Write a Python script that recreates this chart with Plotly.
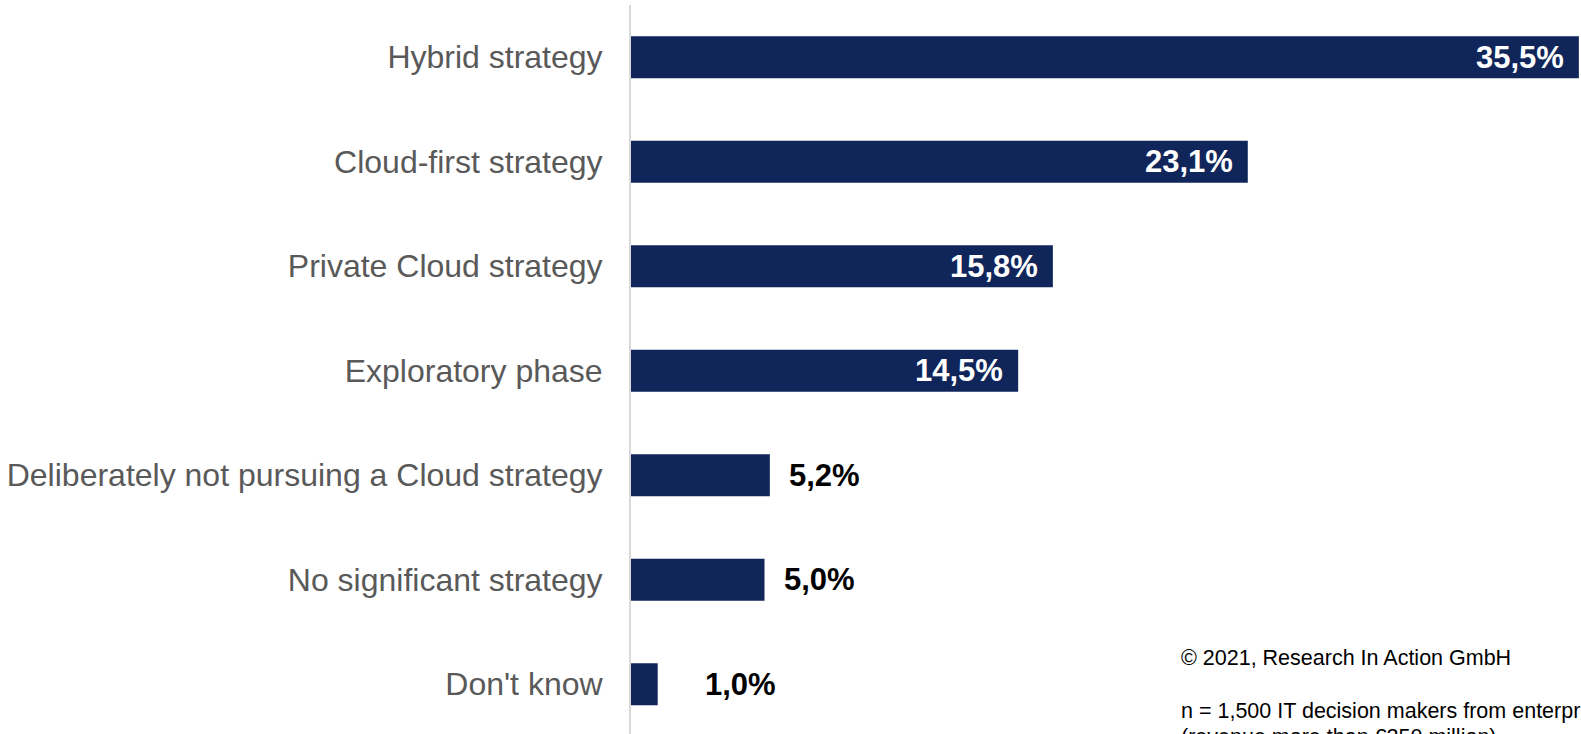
import plotly.graph_objects as go

categories = [
    "Hybrid strategy",
    "Cloud-first strategy",
    "Private Cloud strategy",
    "Exploratory phase",
    "Deliberately not pursuing a Cloud strategy",
    "No significant strategy",
    "Don't know",
]
values = [35.5, 23.1, 15.8, 14.5, 5.2, 5.0, 1.0]
value_labels = ["35,5%", "23,1%", "15,8%", "14,5%", "5,2%", "5,0%", "1,0%"]

footnote_1 = "© 2021, Research In Action GmbH"
footnote_2 = "n = 1,500 IT decision makers from enterprises"
footnote_3 = "(revenue more than €250 million)"

FONT = "Arial, 'Liberation Sans', sans-serif"
BAR = "#10255A"

W, H = 1581, 734
ML, MR, MT, MB = 631, 0, 5, 0

fig = go.Figure(
    go.Bar(
        y=categories,
        x=values,
        orientation="h",
        marker=dict(color=BAR, line=dict(width=0)),
        width=0.4,
        hoverinfo="skip",
    )
)

annotations = []
extra_shift = {"Don't know": 28}
for cat, v, lab in zip(categories, values, value_labels):
    if v > 10:
        annotations.append(dict(
            x=v, y=cat, xref="x", yref="y", text=lab, showarrow=False,
            xanchor="right", yanchor="middle", xshift=-13,
            font=dict(family=FONT, size=31, color="white", weight="bold"),
        ))
    else:
        annotations.append(dict(
            x=v, y=cat, xref="x", yref="y", text=lab, showarrow=False,
            xanchor="left", yanchor="middle", xshift=17 + extra_shift.get(cat, 0),
            font=dict(family=FONT, size=31, color="black", weight="bold"),
        ))

plot_h = H - MT - MB
plot_w = W - ML - MR

def px_y(ypix):
    return (H - MB - ypix) / plot_h

def px_x(xpix):
    return (xpix - ML) / plot_w

foot_font = dict(family=FONT, size=21.5, color="#000000")
for txt, yp in [(footnote_1, 658), (footnote_2, 711), (footnote_3, 737)]:
    annotations.append(dict(
        x=px_x(1179), y=px_y(yp), xref="paper", yref="paper", text=txt,
        showarrow=False, xanchor="left", yanchor="middle", font=foot_font,
    ))

fig.update_layout(
    width=W, height=H,
    margin=dict(l=ML, r=MR, t=MT, b=MB, pad=0),
    paper_bgcolor="white", plot_bgcolor="white",
    showlegend=False,
    annotations=annotations,
    xaxis=dict(range=[0, 35.58], visible=False, fixedrange=True),
    yaxis=dict(
        autorange=False, range=[6.476, -0.5],
        showline=True, linecolor="#D9D9D9", linewidth=2,
        showgrid=False, zeroline=False, ticks="",
        ticklabelstandoff=20,
        tickfont=dict(family=FONT, size=32, color="#595959"),
        fixedrange=True,
    ),
)

fig.write_html("out.html", config={"displayModeBar": False})
